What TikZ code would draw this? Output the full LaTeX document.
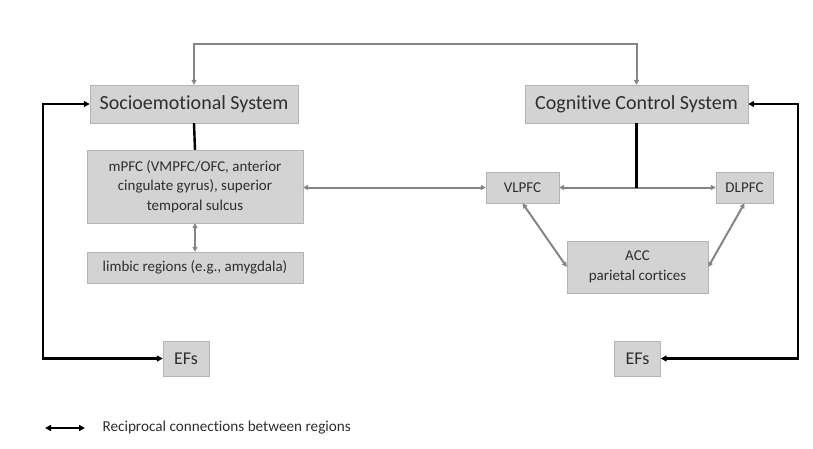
\documentclass[tikz,border=0pt]{standalone}
\usepackage{fontspec}
\setmainfont{Carlito}[Ligatures=NoCommon]
\usepackage{tikz}
\usetikzlibrary{arrows.meta}
\definecolor{boxfill}{HTML}{D3D3D3}
\definecolor{boxline}{HTML}{B4B4B4}
\definecolor{textgray}{HTML}{2E2E2E}
\definecolor{linkgray}{HTML}{858585}

\begin{document}
\begin{tikzpicture}[
    x=1pt, y=-1pt,
    box/.style={draw=boxline, fill=boxfill, text=textgray, align=center, inner sep=1pt,
        font=\fontsize{15}{19.5}\selectfont},
    sysbox/.style={box, minimum height=38pt, font=\fontsize{20}{24}\selectfont},
    efbox/.style={box, minimum width=46pt, minimum height=35pt, font=\fontsize{18}{22}\selectfont},
    blk/.style={draw=black, line width=2.4pt, {Triangle[length=6pt,width=6pt]}-{Triangle[length=6pt,width=6pt]}},
    gry/.style={draw=linkgray, line width=2pt, {Triangle[length=5pt,width=5pt]}-{Triangle[length=5pt,width=5pt]}}
]
\useasboundingbox (0,0) rectangle (813,448);

\node[sysbox, minimum width=208pt] (socio) at (194,104) {Socioemotional System};
\node[sysbox, minimum width=223pt] (cog) at (636.5,104) {Cognitive Control System};

\node[box, minimum width=216pt, minimum height=73pt] (mpfc) at (195,186.5)
    {mPFC (VMPFC/OFC, anterior\\cingulate gyrus), superior\\temporal sulcus};
\node[box, minimum width=216pt, minimum height=31pt] (limbic) at (195,267.5)
    {limbic regions (e.g., amygdala)};

\node[box, minimum width=73pt, minimum height=31pt] (vlpfc) at (522.5,187.5) {VLPFC};
\node[box, minimum width=57pt, minimum height=31pt] (dlpfc) at (744.5,187.5) {DLPFC};
\node[box, minimum width=141pt, minimum height=52pt] (acc) at (637.5,267)
    {ACC\\parietal cortices};

\node[efbox] (efl) at (186,358.5) {EFs};
\node[efbox] (efr) at (637.5,358.5) {EFs};

\coordinate (top) at (416,44);
\coordinate (lft) at (43,230);
\coordinate (rgt) at (798,230);

\draw[gry] (socio.north) |- (top) -| (cog.north);
\draw[blk] (socio.west) -| (lft) |- (efl.west);
\draw[blk] (cog.east) -| (rgt) |- (efr.east);

\draw[black, line width=2.4pt] (socio.south) -- (mpfc.north);
\draw[gry] (mpfc.south) -- (limbic.north);
\draw[gry] (mpfc.east |- vlpfc.west) -- (vlpfc.west);

\draw[gry] (vlpfc.east) -- (dlpfc.west);
\draw[black, line width=2.4pt] (cog.south) -- (cog.south |- vlpfc.east);
\draw[gry] (vlpfc.south) -- (acc.west);
\draw[gry] (dlpfc.south) -- (acc.east);

\coordinate (lg1) at (45,428);
\coordinate (lg2) at (85,428);
\draw[blk, line width=1.6pt] (lg1) -- (lg2);
\node[anchor=west, text=textgray, font=\fontsize{15.2}{18}\selectfont] (legend) at (99,428)
    {Reciprocal connections between regions};

\end{tikzpicture}
\end{document}
